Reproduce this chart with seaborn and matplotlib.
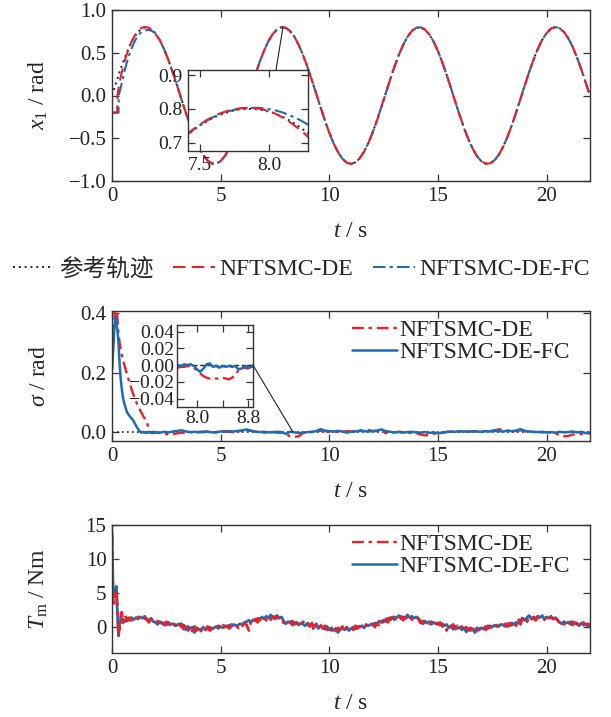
import numpy as np
import matplotlib
matplotlib.use("Agg")
import matplotlib.pyplot as plt
import seaborn as sns
from matplotlib.lines import Line2D
from matplotlib.patches import ConnectionPatch

# ------------------------------------------------------------------ data
# x1 reference trajectory, t = 0 .. 22 s, step 0.2 s
x1_ref = [
    0.000, 0.159, 0.312, 0.452, 0.574, 0.673, 0.746, 0.788, 0.800, 0.779,
    0.727, 0.647, 0.540, 0.412, 0.268, 0.113, -0.047, -0.204, -0.354, -0.490,
    -0.605, -0.697, -0.761, -0.795, -0.797, -0.767, -0.707, -0.618, -0.505, -0.372,
    -0.224, -0.066, 0.093, 0.249, 0.395, 0.526, 0.635, 0.719, 0.774, 0.799,
    0.792, 0.753, 0.684, 0.588, 0.468, 0.330, 0.178, 0.020, -0.139, -0.293,
    -0.435, -0.560, -0.662, -0.738, -0.785, -0.800, -0.783, -0.735, -0.658, -0.555,
    -0.429, -0.287, -0.132, 0.027, 0.185, 0.336, 0.474, 0.592, 0.687, 0.755,
    0.792, 0.798, 0.772, 0.716, 0.631, 0.520, 0.389, 0.243, 0.086, -0.074,
    -0.230, -0.378, -0.510, -0.623, -0.710, -0.769, -0.798, -0.794, -0.759, -0.694,
    -0.601, -0.484, -0.348, -0.198, -0.040, 0.120, 0.275, 0.418, 0.546, 0.651,
    0.730, 0.781, 0.800, 0.787, 0.743, 0.669, 0.569, 0.446, 0.305, 0.152,
    -0.007,
]
# start-up phase of both controllers (afterwards they follow the reference)
t_x1_de_early = [0.0, 0.24, 0.25, 0.3, 0.4, 0.5, 0.6, 0.7, 0.8, 0.9, 1.0,
                 1.1, 1.2, 1.3, 1.4, 1.5, 1.6, 1.7, 1.8, 1.9, 2.0, 2.2]
x1_de_early = [-0.2, -0.2, 0.0, 0.08, 0.22, 0.32, 0.42, 0.50, 0.57, 0.63, 0.68,
               0.72, 0.755, 0.78, 0.795, 0.80, 0.80, 0.79, 0.77, 0.745, 0.72, 0.645]
t_x1_fc_early = [0.0, 0.30, 0.31, 0.4, 0.5, 0.6, 0.7, 0.8, 0.9, 1.0, 1.1,
                 1.2, 1.3, 1.4, 1.5, 1.6, 1.7, 1.8, 1.9, 2.0, 2.2]
x1_fc_early = [-0.2, -0.2, 0.0, 0.09, 0.20, 0.31, 0.40, 0.48, 0.55, 0.61, 0.66,
               0.70, 0.73, 0.75, 0.76, 0.765, 0.765, 0.76, 0.745, 0.725, 0.65]
# zoom window of x1, t = 7.40 .. 8.30 s, step 0.05 s
t_x1_zoom = [7.40, 7.45, 7.50, 7.55, 7.60, 7.65, 7.70, 7.75, 7.80, 7.85,
             7.90, 7.95, 8.00, 8.05, 8.10, 8.15, 8.20, 8.25, 8.30]
x1_ref_zoom = [0.719, 0.736, 0.751, 0.763, 0.774, 0.783, 0.790, 0.796, 0.799, 0.800,
               0.799, 0.796, 0.792, 0.785, 0.776, 0.765, 0.753, 0.738, 0.722]
x1_de_zoom = [0.722, 0.739, 0.754, 0.767, 0.778, 0.787, 0.794, 0.799, 0.802, 0.803,
              0.802, 0.799, 0.793, 0.785, 0.774, 0.761, 0.746, 0.729, 0.711]
x1_fc_zoom = [0.721, 0.738, 0.752, 0.765, 0.776, 0.785, 0.792, 0.797, 0.800, 0.802,
              0.803, 0.802, 0.799, 0.795, 0.789, 0.781, 0.772, 0.761, 0.749]

# sigma, early part t = 0 .. 1.95 s step 0.05 s
sig_de_early = [0.21, 0.28, 0.36, 0.42, 0.43, 0.38, 0.33, 0.30, 0.28, 0.26,
                0.245, 0.23, 0.218, 0.205, 0.192, 0.180, 0.168, 0.156, 0.144, 0.133,
                0.123, 0.113, 0.104, 0.095, 0.087, 0.080, 0.073, 0.066, 0.059, 0.052,
                0.046, 0.040, 0.034, 0.022, 0.010, 0.001, -0.003, -0.002, -0.004, -0.002]
sig_fc_early = [0.21, 0.27, 0.34, 0.385, 0.37, 0.34, 0.30, 0.23, 0.18, 0.145,
                0.118, 0.100, 0.088, 0.076, 0.066, 0.060, 0.055, 0.050, 0.046, 0.042,
                0.036, 0.029, 0.022, 0.016, 0.010, 0.005, 0.001, -0.002, -0.001, 0.001,
                -0.002, 0.000, -0.003, -0.001, 0.001, -0.002, 0.000, -0.002, 0.001, -0.001]
# sigma, t = 2.0 .. 22.0 s step 0.2 s
sig_de_late = [
    -0.002, -0.003, -0.005, -0.008, -0.007, -0.004, -0.002, -0.003, 0.000, -0.002,
    0.001, -0.001, 0.002, 0.000, -0.002, 0.001, 0.003, 0.001, -0.001, 0.002,
    0.004, 0.003, 0.005, 0.002, 0.000, -0.002, -0.001, 0.000, -0.002, -0.002,
    -0.006, -0.015, -0.016, -0.014, -0.003, -0.002, 0.000, 0.002, 0.004, 0.003,
    0.001, 0.002, 0.000, 0.001, 0.003, 0.002, 0.004, 0.006, 0.005, 0.007,
    0.004, 0.003, 0.002, -0.004, 0.000, -0.001, 0.001, 0.000, -0.002, -0.003,
    -0.004, -0.008, -0.011, -0.010, -0.006, -0.002, -0.003, 0.000, 0.001, 0.002,
    0.001, 0.003, 0.002, 0.002, 0.003, 0.002, 0.004, 0.003, 0.006, 0.009,
    0.008, 0.005, 0.004, 0.003, 0.006, 0.002, 0.001, 0.000, 0.001, -0.001,
    0.000, -0.002, -0.004, -0.010, -0.014, -0.013, -0.008, -0.010, -0.006, -0.004,
    -0.005,
]
sig_fc_late = [
    0.000, -0.002, 0.001, -0.001, 0.002, 0.004, 0.006, 0.002, 0.000, 0.001,
    -0.001, 0.002, 0.001, -0.001, 0.000, 0.002, 0.001, 0.003, 0.002, 0.004,
    0.006, 0.009, 0.004, 0.001, 0.000, 0.001, -0.001, 0.000, 0.001, 0.000,
    -0.006, 0.001, -0.001, -0.003, -0.002, 0.000, 0.001, 0.003, 0.010, 0.005,
    0.003, 0.002, 0.004, 0.002, -0.002, 0.001, 0.002, 0.004, 0.003, 0.002,
    0.003, 0.005, 0.009, 0.003, 0.001, -0.001, 0.000, -0.002, 0.000, 0.001,
    -0.001, -0.002, 0.000, -0.003, -0.001, -0.004, -0.002, 0.001, 0.002, 0.001,
    0.003, 0.002, 0.001, 0.003, 0.002, 0.001, 0.003, 0.002, 0.004, 0.003,
    0.002, 0.004, 0.003, 0.005, 0.010, 0.004, 0.002, 0.001, 0.000, 0.001,
    -0.001, 0.000, -0.002, 0.001, -0.001, 0.000, 0.002, -0.001, 0.001, -0.004,
    -0.002,
]
# sigma zoom window, t = 7.70 .. 8.90 s step 0.05 s
sig_de_zoom = [-0.003, -0.002, -0.002, -0.001, -0.002, -0.003, -0.006, -0.010, -0.013, -0.015,
               -0.016, -0.015, -0.016, -0.016, -0.015, -0.016, -0.017, -0.015, -0.012, -0.006,
               -0.005, -0.003, -0.004, -0.002, 0.000]
sig_fc_zoom = [0.000, -0.001, 0.001, 0.000, 0.001, -0.001, -0.005, -0.008, -0.004, 0.001,
               0.002, -0.002, -0.001, -0.003, -0.001, -0.002, -0.001, -0.002, -0.001, -0.005,
               -0.004, -0.001, -0.003, -0.002, 0.000]

# motor torque, t = 0 .. 0.45 s step 0.05 s
tm_de_early = [14.0, 4.0, 3.5, 5.5, 5.0, 3.0, -1.2, -0.5, 1.5, 2.2]
tm_fc_early = [13.5, 5.5, 4.5, 5.5, 6.0, 2.0, -1.3, 0.5, 0.8, 1.0]
# motor torque, t = 0.5 .. 22.0 s step 0.1 s
tm_de_late = [
    0.6, 1.8, 0.9, 1.4, 1.0,
    1.3, 1.1, 1.5, 1.2, 1.0, 1.4, 1.1, 0.7, 1.2, 0.6,
    0.5, 0.9, 0.4, 0.7, 0.3, 0.8, 0.5, 0.2, 0.7, 0.3,
    0.4, -0.1, 0.5, -0.3, 0.3, -0.5, 0.2, -0.6, 0.1, -0.5,
    0.2, -0.6, -0.1, -0.4, 0.1, -0.5, -0.2, 0.1, -0.3, 0.2,
    -0.1, 0.3, 0.0, 0.2, -0.2, 0.4, 0.1, 0.3, -0.1, 0.5,
    0.2, 0.6, 0.3, -0.5, 1.0, 0.6, 1.2, 0.7, 1.3, 0.9,
    1.4, 1.0, 1.5, 1.1, 1.6, 1.2, 1.5, 1.3, 1.4, 0.6,
    0.7, 0.4, 0.8, 0.3, 0.7, 0.5, 0.6, 0.2, 0.8, 0.3,
    0.5, 0.1, 0.6, -0.6, 0.4, 0.0, 0.3, -0.2, 0.2, -0.4,
    0.1, -0.5, 0.0, -0.6, -0.1, -0.4, 0.1, -0.7, -0.1, -0.3,
    0.0, -0.4, 0.2, -0.2, 0.1, 0.3, -0.1, 0.4, 0.1, 0.3,
    0.5, 0.0, 0.6, 0.3, 1.1, 0.4, 1.2, 0.7, 1.4, 0.8,
    1.5, 0.9, 1.3, 1.6, 1.0, 1.5, 1.2, 1.7, 1.1, 1.4,
    1.6, 1.2, 0.6, 0.9, 0.4, 0.7, 0.5, 0.8, 0.3, 0.6,
    0.4, 0.7, 0.1, 0.5, -0.5, 0.3, 0.0, 0.4, -0.3, 0.2,
    -0.2, 0.1, -0.6, 0.0, -0.5, -0.1, -0.4, 0.0, -0.6, -0.2,
    -0.3, 0.1, -0.4, 0.2, -0.1, 0.2, 0.0, 0.3, 0.1, 0.4,
    0.2, 0.5, 0.1, 0.6, 0.3, 0.8, 0.2, 1.3, 0.4, 1.5,
    1.2, 0.8, 1.5, 1.1, 1.4, 1.0, 1.6, 1.2, 1.5, 1.1,
    1.4, 1.0, 1.5, 1.2, 1.3, 1.1, 0.6, 0.9, 0.4, 0.8,
    0.5, 0.8, 0.3, 0.7, 0.4, 0.6, 0.2, 0.7, -0.1, 0.5,
    0.3,
]
tm_fc_late = [
    1.2, 0.8, 1.3, 1.0, 1.4,
    1.1, 1.4, 1.2, 1.5, 1.3, 1.6, 1.2, 1.0, 1.3, 0.8,
    0.7, 0.4, 0.8, 0.5, 0.6, 0.3, 0.7, 0.4, 0.5, 0.2,
    0.3, 0.5, 0.0, 0.3, -0.4, 0.1, -0.2, 0.0, -0.8, -0.1,
    -0.3, -0.5, 0.0, -0.4, -0.2, 0.0, -0.3, -0.1, 0.1, -0.2,
    0.1, -0.1, 0.2, 0.0, 0.3, 0.1, 0.4, 0.2, 0.3, 0.5,
    0.4, 0.7, 0.8, 1.0, 0.7, 1.1, 0.9, 1.3, 1.0, 1.5,
    1.2, 1.6, 1.3, 1.8, 1.4, 1.5, 1.7, 1.3, 1.5, 0.9,
    0.5, 0.8, 0.6, 0.9, 0.4, 0.7, 0.3, 0.6, 0.4, 0.2,
    0.6, 0.3, 0.4, 0.1, 0.5, -0.2, 0.2, 0.0, -0.3, 0.1,
    -0.4, -0.1, -0.5, -0.2, -0.8, -0.3, -0.1, -0.4, 0.0, -0.5,
    -0.2, 0.0, -0.3, 0.1, 0.0, 0.2, -0.1, 0.3, 0.2, 0.4,
    0.3, 0.6, 0.4, 0.9, 0.7, 1.0, 0.8, 1.3, 1.1, 1.5,
    1.1, 1.4, 1.7, 1.2, 1.5, 1.3, 1.8, 1.4, 1.6, 1.3,
    1.5, 1.3, 0.8, 0.5, 0.9, 0.6, 0.8, 0.4, 0.7, 0.5,
    0.6, 0.3, 0.5, 0.2, 0.4, -0.1, 0.2, -0.3, 0.1, -0.2,
    0.0, -0.4, -0.1, -0.7, -0.2, -0.5, -0.3, -0.8, -0.1, -0.4,
    -0.1, -0.3, 0.1, -0.2, 0.2, 0.0, 0.3, 0.1, 0.2, 0.4,
    0.3, 0.1, 0.5, 0.2, 0.6, 0.4, 0.7, 0.6, 1.0, 1.3,
    1.0, 1.4, 1.7, 1.2, 1.5, 1.3, 1.6, 1.4, 1.7, 1.2,
    1.5, 1.3, 1.6, 1.2, 1.4, 1.0, 0.7, 0.5, 0.8, 0.6,
    0.7, 0.4, 0.8, 0.5, 0.6, 0.2, 0.6, 0.3, 0.5, 0.0,
    0.4,
]

legend_top = ["参考轨迹", "NFTSMC-DE", "NFTSMC-DE-FC"]
legend_ctrl = ["NFTSMC-DE", "NFTSMC-DE-FC"]

# ------------------------------------------------------------------ time axes
t_x1 = 0.2 * np.arange(len(x1_ref))
t_x1_de = np.concatenate([t_x1_de_early, t_x1[12:]])
x1_de = np.concatenate([x1_de_early, x1_ref[12:]])
t_x1_fc = np.concatenate([t_x1_fc_early, t_x1[12:]])
x1_fc = np.concatenate([x1_fc_early, x1_ref[12:]])

t_sig = np.concatenate([0.05 * np.arange(len(sig_de_early)),
                        2.0 + 0.2 * np.arange(len(sig_de_late))])
sig_de = np.concatenate([sig_de_early, sig_de_late])
sig_fc = np.concatenate([sig_fc_early, sig_fc_late])
t_sig_zoom = 7.70 + 0.05 * np.arange(len(sig_de_zoom))

t_tm = np.concatenate([0.05 * np.arange(len(tm_de_early)),
                       0.5 + 0.1 * np.arange(len(tm_de_late))])
tm_de = np.concatenate([tm_de_early, tm_de_late])
tm_fc = np.concatenate([tm_fc_early, tm_fc_late])

# ------------------------------------------------------------------ style
sns.set_theme(style="ticks")
plt.rcParams["font.family"] = ["Liberation Serif", "Noto Sans CJK SC", "DejaVu Sans"]
plt.rcParams["mathtext.fontset"] = "custom"
plt.rcParams["mathtext.rm"] = "Liberation Serif"
plt.rcParams["mathtext.it"] = "Liberation Serif:italic"
plt.rcParams["axes.edgecolor"] = "#333333"
plt.rcParams["axes.linewidth"] = 1.0

RED = "#E8212B"
BLUE = "#1B6DB6"
DASH_DE = (0, (6, 3))
DASHDOT_FC = (0, (6, 2, 1.5, 2))
DASHDOT_DE = (0, (5, 2, 1.5, 2))
DOT = (0, (1, 2))
TICK_FS = 15
INSET_FS = 14
LAB_FS = 17


def draw(ax, x, y, color, ls, lw=1.5):
    sns.lineplot(x=np.asarray(x, float), y=np.asarray(y, float), ax=ax,
                 estimator=None, sort=False, legend=False, color=color, lw=lw)
    ax.lines[-1].set_linestyle(ls)


def style(ax, xlim, ylim, xticks, yticks, xticklabels=None, fs=TICK_FS, pad=4):
    ax.set_xlim(*xlim)
    ax.set_ylim(*ylim)
    ax.set_xticks(xticks)
    if xticklabels is not None:
        ax.set_xticklabels(xticklabels)
    ax.set_yticks(yticks)
    ax.tick_params(direction="in", top=True, right=True, length=5, width=0.9,
                   labelsize=fs, pad=pad, colors="#333333", labelcolor="#222222")


W, H = 611, 717
fig = plt.figure(figsize=(W / 100, H / 100), dpi=100)


def box(l, t, r, b):
    return [l / W, 1 - b / H, (r - l) / W, (b - t) / H]


ax1 = fig.add_axes(box(112, 10, 590, 181))
ax2 = fig.add_axes(box(112, 311, 590, 441))
ax3 = fig.add_axes(box(112, 525, 590, 653))
ins1 = fig.add_axes(box(188, 70, 308, 151))
ins2 = fig.add_axes(box(177, 325, 253, 407))

# ---- panel 1
draw(ax1, t_x1, x1_ref, "#222222", DOT, 1.4)
draw(ax1, t_x1_fc, x1_fc, BLUE, DASHDOT_FC)
draw(ax1, t_x1_de, x1_de, RED, DASH_DE)
style(ax1, (0, 22), (-1.0, 1.0), [0, 5, 10, 15, 20], [-1.0, -0.5, 0.0, 0.5, 1.0])
ax1.set_xlabel("$t$ / s", fontsize=LAB_FS, labelpad=11)
ax1.set_ylabel("$x_1$ / rad", fontsize=LAB_FS)
ax1.yaxis.set_label_coords(-0.13, 0.5)

draw(ins1, t_x1_zoom, x1_ref_zoom, "#222222", DOT, 1.4)
draw(ins1, t_x1_zoom, x1_fc_zoom, BLUE, DASHDOT_FC)
draw(ins1, t_x1_zoom, x1_de_zoom, RED, DASH_DE)
style(ins1, (7.413, 8.283), (0.675, 0.915), [7.5, 8.0], [0.7, 0.8, 0.9], fs=INSET_FS)
ins1.set_xlabel("")
ins1.set_ylabel("")
fig.add_artist(ConnectionPatch(xyA=(0.733, 1.0), coordsA=ins1.transAxes,
                               xyB=(7.87, 0.8), coordsB=ax1.transData,
                               color="#222222", lw=0.8))

# ---- shared legend row
h_top = [Line2D([], [], color="#222222", ls=DOT, lw=1.4),
         Line2D([], [], color=RED, ls=DASH_DE, lw=1.5),
         Line2D([], [], color=BLUE, ls=DASHDOT_FC, lw=1.5)]
fig.legend(h_top, legend_top, loc="center", bbox_to_anchor=(0.493, 1 - 269 / H),
           ncol=3, frameon=False, fontsize=LAB_FS, handlelength=1.75,
           handletextpad=0.2, columnspacing=0.85, borderpad=0)

# ---- panel 2
ax2.plot([0, 22], [0, 0], color="#222222", ls=DOT, lw=1.2)
draw(ax2, t_sig, sig_de, RED, DASHDOT_DE, 1.7)
draw(ax2, t_sig, sig_fc, BLUE, "-", 1.8)
style(ax2, (0, 22), (-0.03, 0.407), [0, 5, 10, 15, 20], [0.0, 0.2, 0.4])
ax2.set_xlabel("$t$ / s", fontsize=LAB_FS, labelpad=11)
ax2.set_ylabel("$\\sigma$ / rad", fontsize=LAB_FS)
ax2.yaxis.set_label_coords(-0.13, 0.5)
h_ctrl = [Line2D([], [], color=RED, ls=DASHDOT_DE, lw=1.7),
          Line2D([], [], color=BLUE, ls="-", lw=1.8)]
ax2.legend(h_ctrl, legend_ctrl, loc="upper right", bbox_to_anchor=(0.975, 1.0),
           frameon=False, fontsize=LAB_FS, handlelength=1.9, handletextpad=0.1,
           labelspacing=0.05, borderpad=0.25, borderaxespad=0.1)

ins2.plot([7.6, 9.0], [0, 0], color="#222222", ls=(0, (3, 2)), lw=1.0)
draw(ins2, t_sig_zoom, sig_de_zoom, RED, DASHDOT_DE, 1.7)
draw(ins2, t_sig_zoom, sig_fc_zoom, BLUE, "-", 1.8)
style(ins2, (7.686, 8.878), (-0.05, 0.048), [8.0, 8.4, 8.8],
      [-0.04, -0.02, 0.0, 0.02, 0.04], xticklabels=["8.0", "", "8.8"],
      fs=INSET_FS, pad=2)
ins2.set_xlabel("")
ins2.set_ylabel("")
fig.add_artist(ConnectionPatch(xyA=(8.878, 0.0), coordsA=ins2.transData,
                               xyB=(8.33, 0.0), coordsB=ax2.transData,
                               color="#222222", lw=0.8))

# ---- panel 3
draw(ax3, t_tm, tm_fc, BLUE, "-", 2.0)
draw(ax3, t_tm, tm_de, RED, DASHDOT_DE, 2.0)
style(ax3, (0, 22), (-3.8, 15), [0, 5, 10, 15, 20], [0, 5, 10, 15])
ax3.set_xlabel("$t$ / s", fontsize=LAB_FS, labelpad=11)
ax3.set_ylabel("$T_{\\mathrm{m}}$ / Nm", fontsize=LAB_FS)
ax3.yaxis.set_label_coords(-0.13, 0.5)
ax3.legend(h_ctrl, legend_ctrl, loc="upper right", bbox_to_anchor=(0.975, 1.0),
           frameon=False, fontsize=LAB_FS, handlelength=1.9, handletextpad=0.1,
           labelspacing=0.05, borderpad=0.25, borderaxespad=0.1)

fig.savefig("out.png", dpi=100)
